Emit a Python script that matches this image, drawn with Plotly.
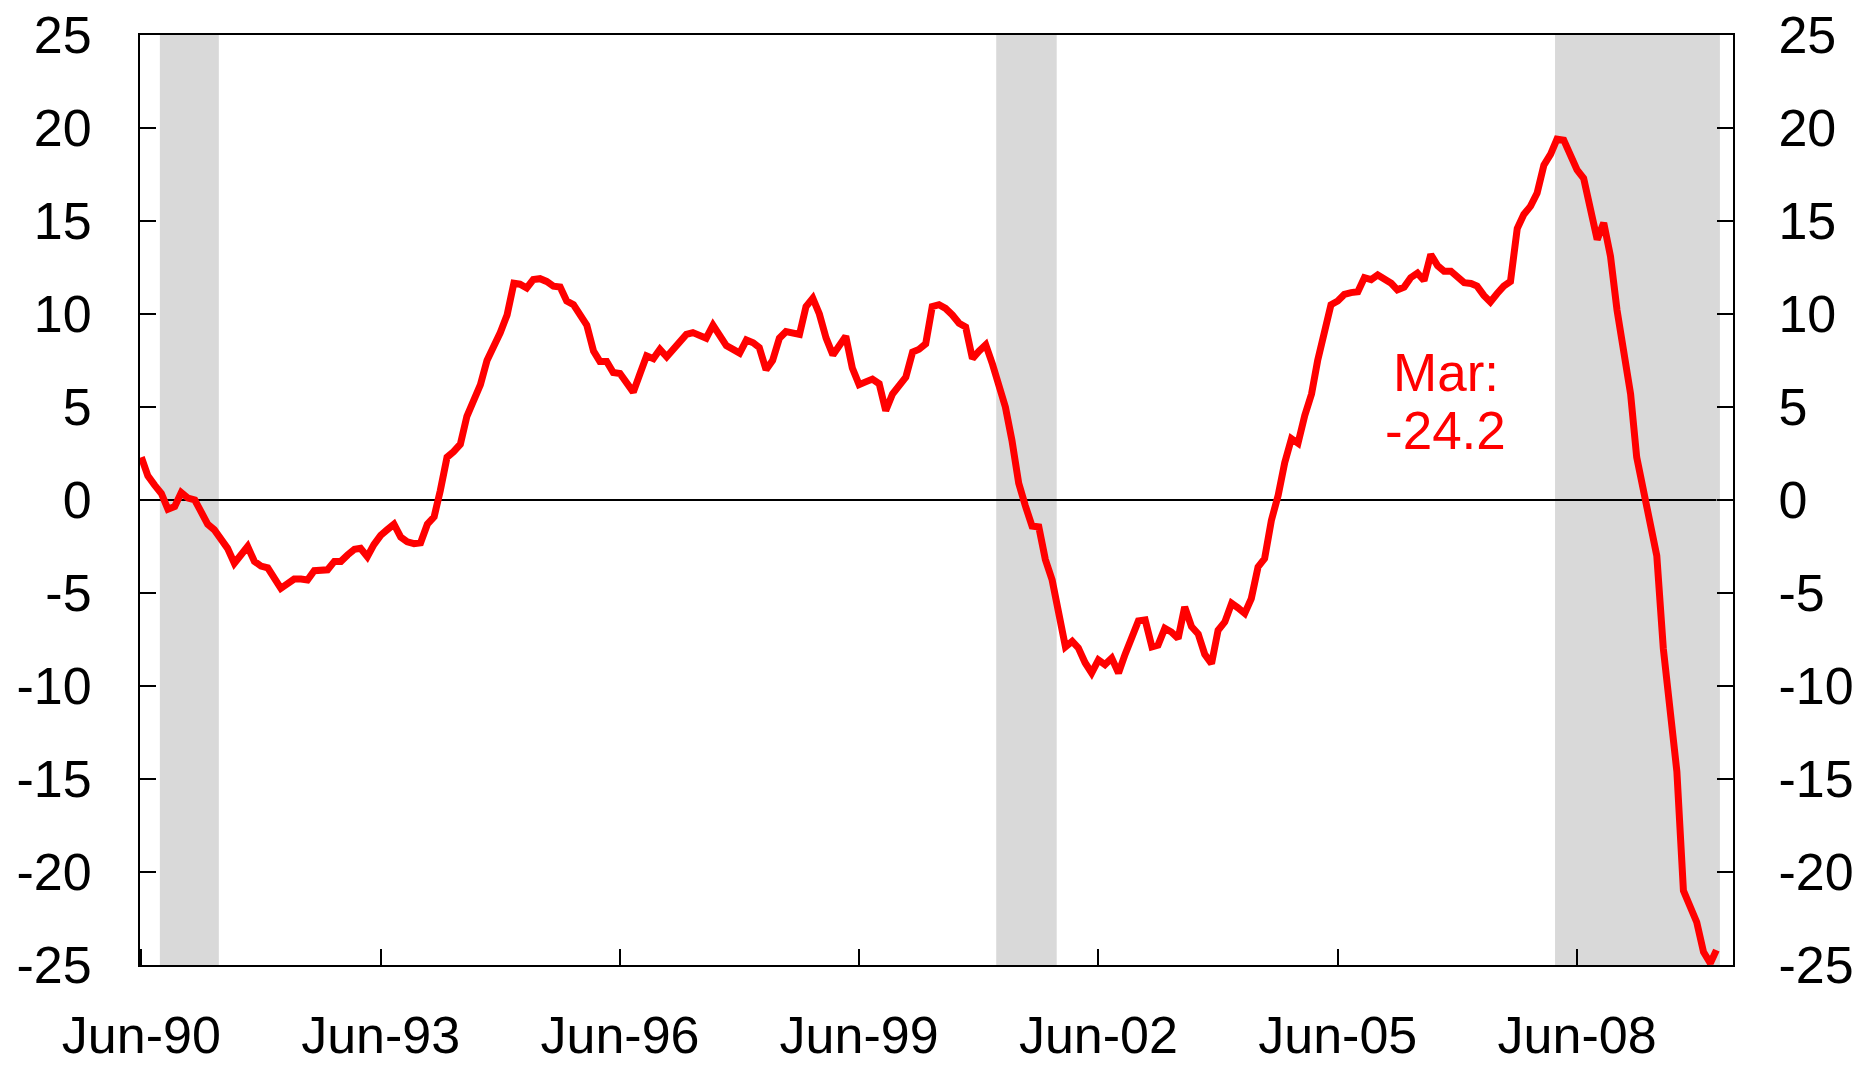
import pandas as pd
import plotly.graph_objects as go

# ---- data (monthly, Jun-1990 .. Mar-2010) ----
start_month = "1990-06-01"
values = [
    2.3, 1.3, 0.8, 0.35, -0.5, -0.35, 0.4, 0.1, 0.0, -0.6,
    -1.3, -1.6, -2.1, -2.6, -3.4, -2.9, -2.5, -3.3, -3.55, -3.65,
    -4.2, -4.75, -4.5, -4.25, -4.25, -4.3, -3.8, -3.77, -3.75, -3.3,
    -3.3, -2.95, -2.65, -2.6, -3.05, -2.4, -1.9, -1.6, -1.3, -2.0,
    -2.25, -2.35, -2.3, -1.3, -0.9, 0.5, 2.3, 2.6, 3.0, 4.5,
    5.4, 6.2, 7.5, 8.2, 9.0, 9.95, 11.65, 11.6, 11.4, 11.85,
    11.9, 11.75, 11.5, 11.45, 10.7, 10.5, 10.0, 9.4, 8.0, 7.45,
    7.45, 6.85, 6.8, 6.3, 5.8, 6.8, 7.75, 7.6, 8.1, 7.7,
    8.1, 8.6, 8.9, 9.0, 8.87, 8.7, 9.4, 8.87, 8.3, 8.1,
    7.9, 8.6, 8.45, 8.2, 7.0, 7.5, 8.7, 9.05, 8.95, 8.9,
    10.4, 10.85, 10.0, 8.7, 7.8, 8.25, 8.8, 7.1, 6.2, 6.35,
    6.5, 6.25, 4.8, 5.7, 6.1, 6.6, 7.95, 8.1, 8.4, 10.4,
    10.5, 10.3, 9.95, 9.5, 9.3, 7.6, 8.0, 8.35, 7.3, 6.2,
    5.0, 3.2, 0.9, -0.3, -1.4, -1.45, -3.2, -4.3, -6.2, -7.9,
    -7.6, -7.95, -8.75, -9.3, -8.6, -8.85, -8.5, -9.3, -8.3, -7.35,
    -6.5, -6.45, -7.9, -7.8, -6.9, -7.1, -7.45, -5.75, -6.8, -7.2,
    -8.3, -8.8, -7.0, -6.55, -5.55, -5.8, -6.1, -5.3, -3.6, -3.15,
    -1.1, 0.25, 2.0, 3.3, 3.05, 4.55, 5.7, 7.5, 9.2, 10.5,
    10.7, 11.05, 11.15, 11.2, 11.95, 11.85, 12.1, 11.9, 11.65, 11.3,
    11.45, 11.95, 12.2, 11.8, 13.2, 12.6, 12.3, 12.3, 12.0, 11.68,
    11.64, 11.5, 11.0, 10.65, 11.1, 11.5, 11.75, 14.6, 15.35, 15.8,
    16.5, 18.0, 18.6, 19.4, 19.35, 18.5, 17.75, 17.3, 15.8, 14.0,
    14.9, 13.1, 10.2, 7.7, 5.7, 2.3, 0.5, -0.9, -3.0, -8.0,
    -11.0, -14.6, -21.0, -22.0, -22.7, -24.3, -24.9, -24.2,
]
dates = pd.date_range(start_month, periods=len(values), freq="MS")

# shaded recession periods
recessions = [
    ("1990-08-25", "1991-05-22"),
    ("2001-02-18", "2001-11-22"),
    ("2008-02-21", "2010-03-17"),
]

x_tick_vals = ["1990-06-01", "1993-06-01", "1996-06-01", "1999-06-01",
               "2002-06-01", "2005-06-01", "2008-06-01"]
x_tick_text = ["Jun-90", "Jun-93", "Jun-96", "Jun-99", "Jun-02", "Jun-05", "Jun-08"]
y_tick_vals = [-25, -20, -15, -10, -5, 0, 5, 10, 15, 20, 25]
y_tick_text = [str(v) for v in y_tick_vals]

x_range = ["1990-05-26", "2010-05-16"]
y_range = [-25, 25]

FONT = "Liberation Sans, Arial, sans-serif"
RED = "#ff0000"

fig = go.Figure()
fig.add_trace(go.Scatter(
    x=dates, y=values, mode="lines",
    line=dict(color=RED, width=7),
    showlegend=False, yaxis="y",
))
# helper trace so the right axis is drawn
fig.add_trace(go.Scatter(
    x=[dates[0]], y=[0], mode="markers", marker=dict(opacity=0),
    showlegend=False, hoverinfo="skip", yaxis="y2",
))

shapes = []
for a, b in recessions:
    shapes.append(dict(type="rect", xref="x", yref="paper", x0=a, x1=b, y0=0, y1=1,
                       fillcolor="#d9d9d9", line=dict(width=0), layer="below"))
shapes.append(dict(type="line", xref="x", yref="y", x0=dates[0], x1=dates[-1], y0=0, y1=0,
                   line=dict(color="black", width=2), layer="below"))

ann_x = "2006-10-09"
annotations = [
    dict(x=ann_x, y=6.88, xref="x", yref="y", text="Mar:", showarrow=False,
         font=dict(family=FONT, size=53, color=RED), xanchor="center", yanchor="middle"),
    dict(x=ann_x, y=3.76, xref="x", yref="y", text=f"{values[-1]:.1f}", showarrow=False,
         font=dict(family=FONT, size=53, color=RED), xanchor="center", yanchor="middle"),
]

axis_common = dict(
    showgrid=False, zeroline=False, showline=True, linecolor="black", linewidth=2,
    ticks="inside", ticklen=16, tickwidth=1.5, tickcolor="black", automargin=False,
    ticklabeloverflow="allow",
    tickfont=dict(family=FONT, size=52, color="black"),
)

# page body adds an 8px offset; the figure is sized so the plot lands where the reference has it
fig.update_layout(
    width=1857, height=1058,
    margin=dict(l=132, r=132, t=27, b=101, autoexpand=False),
    paper_bgcolor="white", plot_bgcolor="white",
    showlegend=False,
    shapes=shapes, annotations=annotations,
    xaxis=dict(type="date", range=x_range, tickmode="array",
               tickvals=x_tick_vals, ticktext=x_tick_text, mirror=True,
               ticklabelstandoff=24, **axis_common),
    yaxis=dict(range=y_range, tickmode="array", tickvals=y_tick_vals, ticktext=y_tick_text,
               mirror=True, ticklabelstandoff=36, **axis_common),
    yaxis2=dict(range=y_range, tickmode="array", tickvals=y_tick_vals, ticktext=y_tick_text,
                overlaying="y", side="right", ticklabelstandoff=33, **axis_common),
)

fig.write_html("out.html")
